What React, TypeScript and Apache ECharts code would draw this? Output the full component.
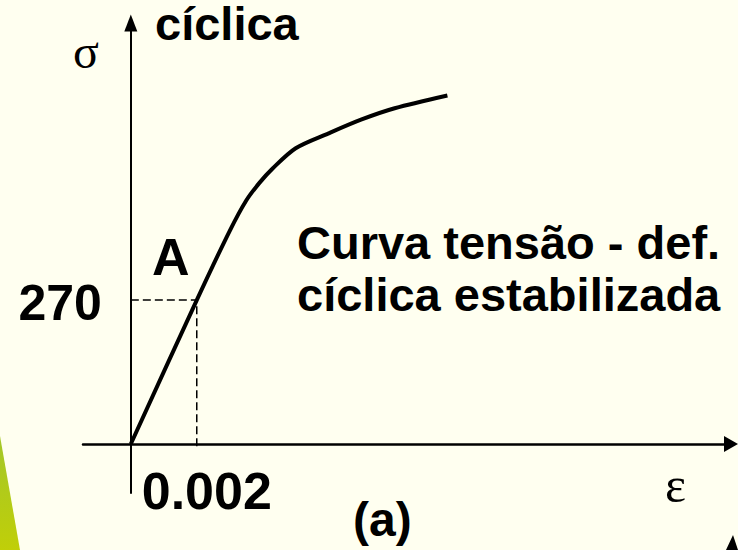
import React, { useEffect, useRef } from "react";
import * as echarts from "echarts";

// Curve: cyclic stabilized stress-strain curve
const strain = [0, 0.002, 0.003, 0.0035, 0.0039, 0.0043, 0.005, 0.006, 0.007, 0.008, 0.0096];
const stress = [0, 270, 400, 457, 490, 517, 555, 583, 609, 630, 654];

// Dashed guide to point A
const guideStrain = [0, 0.002, 0.002];
const guideStress = [270, 270, -10];

// Tick labels
const yTicks = [270];
const xTicks = [0.002];

const SANS = '"Liberation Sans", Arial, sans-serif';
const SERIF = '"Liberation Serif", "Times New Roman", serif';

export default function App() {
  const ref = useRef<HTMLDivElement>(null);

  useEffect(() => {
    if (!ref.current) return;
    const chart = echarts.init(ref.current, null, { renderer: "svg" });
    const curve = strain.map((x, i) => [x, stress[i]]);
    const guide = guideStrain.map((x, i) => [x, guideStress[i]]);

    const txt = (text: string, x: number, y: number, size: number, bold = true, family = SANS) => ({
      type: "text",
      x,
      y,
      style: {
        text,
        fill: "#000",
        font: `${bold ? "bold " : ""}${size}px ${family}`,
        textAlign: "left",
        textVerticalAlign: "middle",
        verticalAlign: "middle",
      },
      z: 10,
    });

    const tickLabel = {
      show: true,
      color: "#000",
      opacity: 1,
      fontWeight: "bold",
      fontFamily: SANS,
    };

    chart.setOption({
      animation: false,
      backgroundColor: "#FFFFF0",
      grid: {
        left: 83,
        top: 23,
        width: 648,
        height: 470,
        containLabel: false,
        outerBoundsMode: "none",
      },
      xAxis: {
        type: "value",
        min: -0.00145,
        max: 0.0182,
        splitLine: { show: false },
        axisTick: { show: false },
        axisLabel: { show: false },
        axisLine: {
          show: true,
          onZero: true,
          symbol: ["none", "triangle"],
          symbolSize: [16, 14],
          lineStyle: { color: "#000", width: 2.5 },
        },
      },
      yAxis: {
        type: "value",
        min: -92,
        max: 790,
        splitLine: { show: false },
        axisTick: { show: false },
        axisLabel: { show: false },
        axisLine: {
          show: true,
          onZero: true,
          symbol: ["none", "triangle"],
          symbolSize: [13, 17],
          lineStyle: { color: "#000", width: 2 },
        },
      },
      series: [
        {
          type: "line",
          data: guide,
          symbol: "none",
          lineStyle: { color: "#000", width: 1.5, type: [8, 4] },
          z: 2,
        },
        {
          type: "line",
          data: curve,
          symbol: "none",
          smooth: 0.3,
          lineStyle: { color: "#000", width: 4 },
          z: 3,
        },
        {
          type: "scatter",
          silent: true,
          symbolSize: 0,
          itemStyle: { opacity: 1, color: "#000" },
          data: yTicks.map((v) => [0, v]),
          label: {
            ...tickLabel,
            position: "left",
            distance: 29,
            offset: [0, 3],
            formatter: (p: any) => String(p.value[1]),
            fontSize: 50,
          },
          z: 5,
        },
        {
          type: "scatter",
          silent: true,
          symbolSize: 0,
          itemStyle: { opacity: 1, color: "#000" },
          data: xTicks.map((v) => [v, 0]),
          label: {
            ...tickLabel,
            position: "bottom",
            distance: 21,
            offset: [10, 0],
            formatter: (p: any) => String(p.value[0]),
            fontSize: 52,
          },
          z: 5,
        },
      ],
      graphic: [
        {
          type: "polygon",
          shape: { points: [[0, 436], [20, 550], [0, 550]] },
          style: {
            fill: new echarts.graphic.LinearGradient(0, 0, 0, 1, [
              { offset: 0, color: "#A3C72A" },
              { offset: 1, color: "#C0CF08" },
            ]),
          },
          z: 1,
        },
        {
          type: "polygon",
          shape: { points: [[733, 535], [726, 550], [738, 550]] },
          style: { fill: "#000" },
          z: 1,
        },
        txt("cíclica", 155, 23, 47),
        txt("σ", 73, 51, 48, false, SERIF),
        txt("A", 152, 257, 52),
        txt("Curva tensão - def.", 297, 242, 47),
        txt("cíclica estabilizada", 297, 294, 47),
        txt("ε", 665, 485, 50, false, SERIF),
        txt("(a)", 353, 519, 48),
      ],
    });
    return () => chart.dispose();
  }, []);

  return (
    <div
      ref={ref}
      style={{ position: "fixed", left: 0, top: 0, width: 738, height: 550, background: "#FFFFF0" }}
    />
  );
}
